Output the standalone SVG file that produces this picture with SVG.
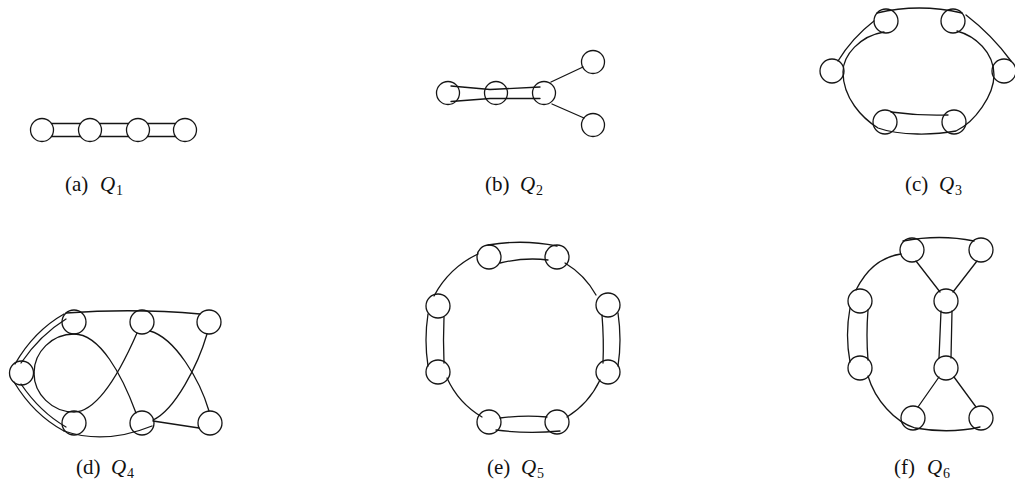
<svg xmlns="http://www.w3.org/2000/svg" width="1015" height="493" viewBox="0 0 1015 493">
<style>
.n{fill:none;stroke:#151515;stroke-width:1.3}
.e{fill:none;stroke:#151515;stroke-width:1.3;stroke-linecap:round}
.lbl{font-family:"Liberation Serif",serif;font-size:21px;fill:#111}
.q{font-style:italic}
.sub{font-size:14px}
</style>
<rect width="1015" height="493" fill="#fff"/>
<g id="connectors">
<!-- Q1 -->
<path class="e" d="M51.5 123.5H80.5M51.5 136.5H80.5M99.5 123.5H128.5M99.5 136.5H128.5M147.5 123.5H175.5M147.5 136.5H175.5"/>
<!-- Q2 -->
<path class="e" d="M451 86L490 89.5L540 87M451 101.5L490 98.5L540 98.5M551 82L583 67M552 104L584 118"/>
<!-- Q3 -->
<path class="e" d="M877 13Q919 3 962 13"/>
<path class="e" d="M874 21Q852 38 838 61"/>
<path class="e" d="M966 15Q992 35 1011 61"/>
<path class="e" d="M884 32C860 36 843 55 843 72C843 98 862 118 878 128C900 136 935 135 956 131C975 122 994 95 994 75C994 52 975 36 957 31"/>
<path class="e" d="M891 112Q920 116 948 115"/>
<!-- Q4 -->
<path class="e" d="M66 313Q135 308 200 314"/>
<path class="e" d="M15 364Q34 331 64 314M21 363Q40 335 66 319"/>
<path class="e" d="M14 382Q34 415 64 431M21 384Q40 412 66 427"/>
<path class="e" d="M34 373C34 352 52 334 74 334C100 334 122 375 136 413"/>
<path class="e" d="M34 373C34 394 52 412 74 412C98 412 120 372 137 333"/>
<path class="e" d="M150 331C175 338 200 380 209 411"/>
<path class="e" d="M153 420C175 410 198 365 207 334"/>
<path class="e" d="M64 431Q105 445 152 426"/>
<path class="e" d="M153 421L199 428"/>
<!-- Q5 -->
<path class="e" d="M478 254A97 97 0 0 0 434 296"/>
<path class="e" d="M447 378A87 87 0 0 0 482 417"/>
<path class="e" d="M567 417A88 88 0 0 0 600 380"/>
<path class="e" d="M596 295A86 86 0 0 0 565 263"/>
<path class="e" d="M488 245Q523 239 557 246M500 263Q525 257 548 260"/>
<path class="e" d="M428 314Q424 340 428 366M444 317Q443 340 444 363"/>
<path class="e" d="M618 313Q622 340 618 366M602 315Q604 340 603 363"/>
<path class="e" d="M500 418Q524 415 547 417M496 430Q527 434 560 431"/>
<!-- Q6 -->
<path class="e" d="M903 241Q940 234 974 241"/>
<path class="e" d="M901 254Q872 258 856 290"/>
<path class="e" d="M850 308Q845 335 850 362M868 310Q866 335 868 360"/>
<path class="e" d="M868 376C875 400 895 422 915 428Q950 434 980 427"/>
<path class="e" d="M916 261L940 292M977 261L953 292"/>
<path class="e" d="M941 311L939 358M952 311L951 358"/>
<path class="e" d="M939 377L918 407M954 377L976 407"/>
</g>
<g id="q1-nodes"><circle class="n" cx="42" cy="130" r="11.5"/><circle class="n" cx="90" cy="130" r="11.5"/><circle class="n" cx="138" cy="130" r="11.5"/><circle class="n" cx="185" cy="130" r="11.5"/></g>
<g id="q2-nodes"><circle class="n" cx="448" cy="93" r="11.5"/><circle class="n" cx="496" cy="93" r="11.5"/><circle class="n" cx="544" cy="93" r="11.5"/><circle class="n" cx="593" cy="62" r="11.5"/><circle class="n" cx="593" cy="125" r="11.5"/></g>
<g id="q3-nodes"><circle class="n" cx="886" cy="21" r="12"/><circle class="n" cx="953" cy="21" r="12"/><circle class="n" cx="832" cy="71" r="12"/><circle class="n" cx="1004" cy="71" r="12"/><circle class="n" cx="885" cy="122" r="12"/><circle class="n" cx="954" cy="122" r="12"/></g>
<g id="q4-nodes"><circle class="n" cx="21.5" cy="373" r="12"/><circle class="n" cx="74" cy="322" r="12"/><circle class="n" cx="142" cy="322" r="12"/><circle class="n" cx="209" cy="322" r="12"/><circle class="n" cx="74" cy="423" r="12"/><circle class="n" cx="142" cy="423" r="12"/><circle class="n" cx="210" cy="423" r="12"/></g>
<g id="q5-nodes"><circle class="n" cx="489" cy="257" r="12"/><circle class="n" cx="557" cy="257" r="12"/><circle class="n" cx="438" cy="306" r="12"/><circle class="n" cx="438" cy="372" r="12"/><circle class="n" cx="608" cy="305" r="12"/><circle class="n" cx="608" cy="372" r="12"/><circle class="n" cx="489" cy="422" r="12"/><circle class="n" cx="557" cy="422" r="12"/></g>
<g id="q6-nodes"><circle class="n" cx="912" cy="250" r="12"/><circle class="n" cx="981" cy="250" r="12"/><circle class="n" cx="860" cy="301" r="12"/><circle class="n" cx="860" cy="368" r="12"/><circle class="n" cx="946" cy="301" r="12"/><circle class="n" cx="946" cy="368" r="12"/><circle class="n" cx="913" cy="418" r="12"/><circle class="n" cx="981" cy="418" r="12"/></g>
<g id="labels">
<text class="lbl" x="65" y="191">(a)<tspan class="q" x="100">Q</tspan><tspan class="sub" x="116" y="195">1</tspan></text>
<text class="lbl" x="485" y="191">(b)<tspan class="q" x="520">Q</tspan><tspan class="sub" x="536" y="195">2</tspan></text>
<text class="lbl" x="905" y="191">(c)<tspan class="q" x="939">Q</tspan><tspan class="sub" x="955" y="195">3</tspan></text>
<text class="lbl" x="76" y="474">(d)<tspan class="q" x="111">Q</tspan><tspan class="sub" x="127" y="478">4</tspan></text>
<text class="lbl" x="487" y="474">(e)<tspan class="q" x="521">Q</tspan><tspan class="sub" x="537" y="478">5</tspan></text>
<text class="lbl" x="894" y="474">(f)<tspan class="q" x="927">Q</tspan><tspan class="sub" x="943" y="478">6</tspan></text>
</g>
</svg>
